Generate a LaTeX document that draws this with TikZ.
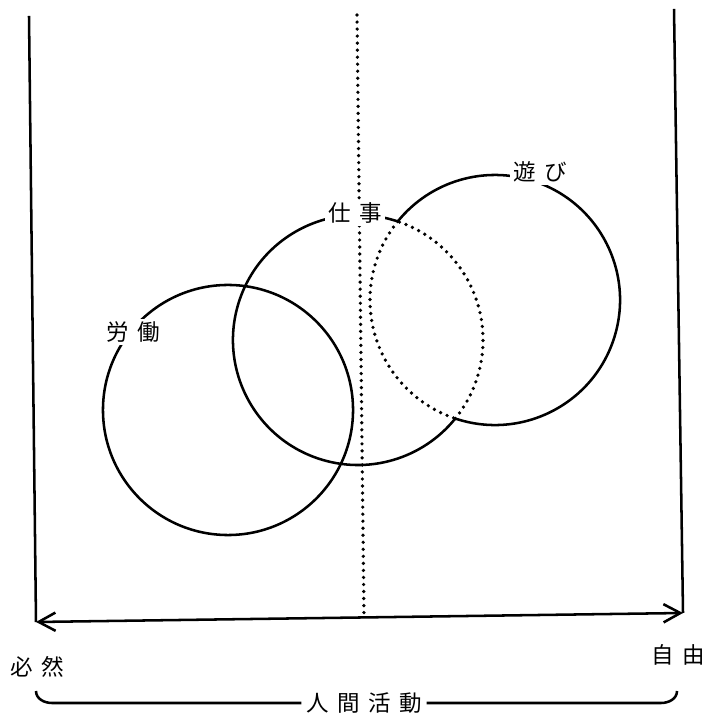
\documentclass[tikz,border=0pt]{standalone}
\usepackage{fontspec}
\newfontfamily\jp{Noto Sans CJK JP}
\usetikzlibrary{arrows.meta}
\newcommand{\gp}{\hspace{6pt}}

\begin{document}
\begin{tikzpicture}[x=0.025cm, y=0.025cm, >={Straight Barb[length=12pt,width=13pt]},
 every node/.style={font=\jp\fontsize{16}{18}\selectfont},
 line/.style={line width=1.8pt},
 dots/.style={line width=2.6pt,line cap=round,dash pattern=on 0pt off 5pt},
 tag/.style={fill=white,inner sep=2pt}]
\useasboundingbox (0,0) rectangle (707,721);
% frame
\coordinate (lt) at (29,705); \coordinate (lb) at (36,99);
\coordinate (mt) at (357,706); \coordinate (mb) at (364,104);
\coordinate (rt) at (674,712); \coordinate (rb) at (683,108);
\draw[line] (lt)--(lb); \draw[line] (rt)--(rb);
\draw[dots] (mt)--(mb);
\draw[line,<->] (lb)--(rb);
\node (hitsu) at (37,54) {必\gp 然};
\node (jiyu) at (678,66) {自\gp 由};
% brace
\node (ningen) at (364,18) {人\gp 間\gp 活\gp 動};
\coordinate (bl) at (36,30); \coordinate (br) at (677,30);
\draw[line] (bl) to[out=-90,in=180] ++(16,-12)--(ningen.west);
\draw[line] (ningen.east)--(661,18) to[out=0,in=-90] (br);
% circles
\coordinate (c1) at (228,311); \coordinate (c2) at (358,381); \coordinate (c3) at (495,421);
\draw[line] (c1) circle[radius=3.125cm];
\draw[line] (c2) ++(71.5:3.125cm) arc[start angle=71.5,end angle=321.1,radius=3.125cm];
\draw[dots] (c2) ++(-38.9:3.125cm) arc[start angle=-38.9,end angle=71.5,radius=3.125cm];
\draw[line] (c3) ++(-108.5:3.125cm) arc[start angle=-108.5,end angle=141.1,radius=3.125cm];
\draw[dots] (c3) ++(141.1:3.125cm) arc[start angle=141.1,end angle=251.5,radius=3.125cm];
\node[tag] (rodo) at (133,389) {労\gp 働};
\node[tag] (shigoto) at (355,508) {仕\gp 事};
\node[tag] (asobi) at (540,549) {遊\gp び};
\end{tikzpicture}
\end{document}
